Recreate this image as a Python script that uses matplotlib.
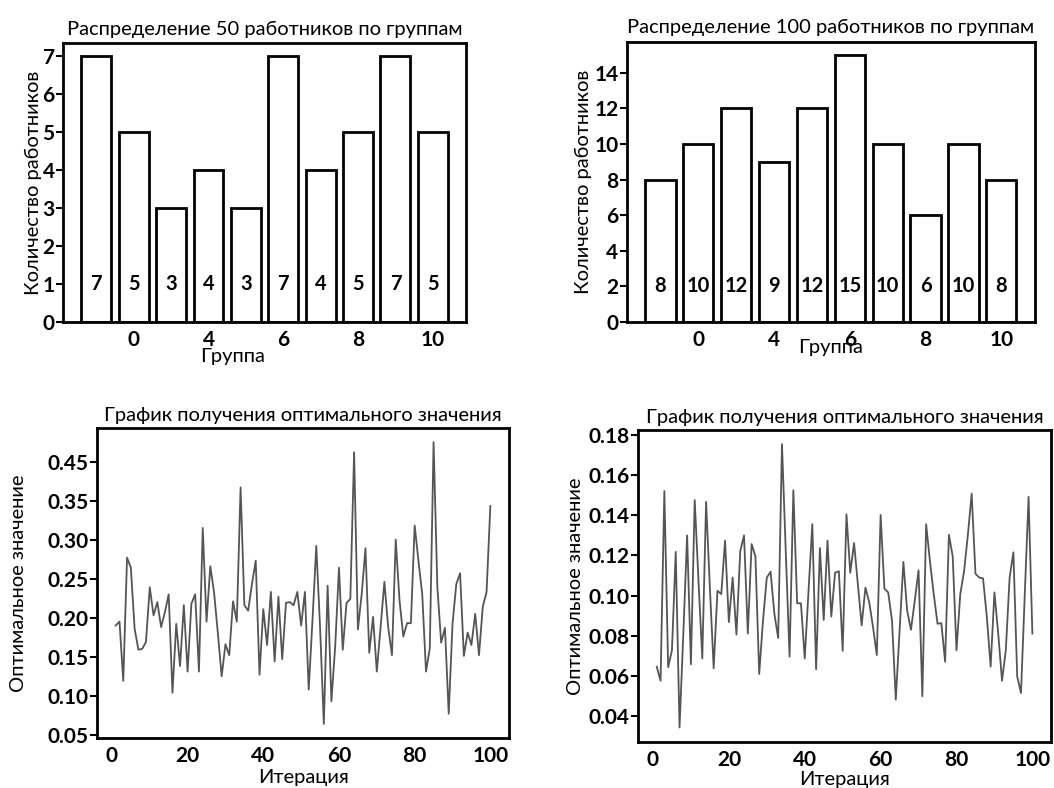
import matplotlib
matplotlib.use("Agg")
import matplotlib.pyplot as plt

plt.rcParams['font.family'] = ['Lato', 'DejaVu Sans']

# распределение работников по группам
groups = [1, 2, 3, 4, 5, 6, 7, 8, 9, 10]
workers_50 = [7, 5, 3, 4, 3, 7, 4, 5, 7, 5]
workers_100 = [8, 10, 12, 9, 12, 15, 10, 6, 10, 8]
group_ticks = [2, 4, 6, 8, 10]
group_tick_labels = ['0', '4', '6', '8', '10']

# оптимальное значение по итерациям
iterations = list(range(1, 101))
opt_50 = [
    0.190, 0.195, 0.119, 0.277, 0.264, 0.186, 0.159, 0.160, 0.169, 0.239,
    0.203, 0.220, 0.188, 0.207, 0.230, 0.104, 0.192, 0.138, 0.216, 0.131,
    0.218, 0.230, 0.131, 0.315, 0.195, 0.266, 0.232, 0.180, 0.125, 0.166,
    0.152, 0.221, 0.195, 0.367, 0.216, 0.209, 0.243, 0.273, 0.127, 0.211,
    0.165, 0.233, 0.144, 0.227, 0.147, 0.219, 0.220, 0.216, 0.233, 0.190,
    0.233, 0.108, 0.197, 0.292, 0.188, 0.064, 0.241, 0.093, 0.163, 0.264,
    0.159, 0.219, 0.224, 0.412, 0.185, 0.230, 0.289, 0.155, 0.201, 0.131,
    0.188, 0.246, 0.188, 0.152, 0.300, 0.222, 0.176, 0.193, 0.193, 0.318,
    0.273, 0.230, 0.131, 0.161, 0.425, 0.239, 0.168, 0.187, 0.077, 0.192,
    0.243, 0.257, 0.151, 0.181, 0.165, 0.205, 0.152, 0.214, 0.233, 0.343,
]
opt_100 = [
    0.0646, 0.0576, 0.1521, 0.0643, 0.0728, 0.1218, 0.0343, 0.0811, 0.1300, 0.0658,
    0.1476, 0.1073, 0.0687, 0.1467, 0.1040, 0.0638, 0.1024, 0.1008, 0.1274, 0.0868,
    0.1090, 0.0806, 0.1221, 0.1300, 0.0811, 0.1257, 0.1196, 0.0610, 0.0876, 0.1090,
    0.1119, 0.0909, 0.0789, 0.1755, 0.1220, 0.0696, 0.1525, 0.0962, 0.0962, 0.0687,
    0.1024, 0.1356, 0.0633, 0.1237, 0.0879, 0.1274, 0.0896, 0.1114, 0.1122, 0.0725,
    0.1405, 0.1114, 0.1262, 0.1057, 0.0852, 0.1040, 0.0967, 0.0843, 0.0704, 0.1402,
    0.1035, 0.1016, 0.0876, 0.0482, 0.0827, 0.1168, 0.0925, 0.0830, 0.0975, 0.1126,
    0.0499, 0.1356, 0.1172, 0.1008, 0.0860, 0.0863, 0.0671, 0.1303, 0.1196, 0.0728,
    0.1008, 0.1122, 0.1303, 0.1508, 0.1109, 0.1090, 0.1086, 0.0893, 0.0646, 0.1016,
    0.0811, 0.0576, 0.0728, 0.1090, 0.1216, 0.0597, 0.0515, 0.1008, 0.1492, 0.0811,
]
# подписи оси y левого нижнего графика (как на исходной картинке)
opt_50_ticks = [0.05, 0.10, 0.15, 0.20, 0.25, 0.30, 0.35, 0.40]
opt_50_tick_labels = ['0.05', '0.10', '0.15', '0.20', '0.25', '0.30', '0.35', '0.45']
opt_100_ticks = [0.04, 0.06, 0.08, 0.10, 0.12, 0.14, 0.16, 0.18]

fig = plt.figure(figsize=(10.54, 7.88), dpi=100)
ax1 = fig.add_axes([0.0598, 0.5914, 0.3824, 0.354])
ax2 = fig.add_axes([0.5946, 0.5917, 0.3874, 0.3553])
ax3 = fig.add_axes([0.0920, 0.0635, 0.3910, 0.3934])
ax4 = fig.add_axes([0.6053, 0.0588, 0.3920, 0.3956])

TXT = 14.5


def style(ax):
    for sp in ax.spines.values():
        sp.set_linewidth(2)
    ax.tick_params(axis='y', length=5, width=1.5, labelsize=15, pad=1)
    ax.tick_params(axis='x', length=0, labelsize=15, pad=6)
    for lab in ax.get_xticklabels() + ax.get_yticklabels():
        lab.set_fontweight('bold')


def bars(ax, values, n, label_y):
    ax.bar(groups, values, width=0.8, color='white', edgecolor='black', linewidth=2)
    for g, v in zip(groups, values):
        ax.text(g, label_y, str(v), ha='center', va='center', fontsize=14.5, fontweight='bold')
    ax.set_xticks(group_ticks)
    ax.set_xticklabels(group_tick_labels)
    ax.set_title(f'Распределение {n} работников по группам', fontsize=TXT, pad=6)
    ax.set_xlabel('Группа', fontsize=TXT)
    ax.set_ylabel('Количество работников', fontsize=TXT)
    style(ax)


bars(ax1, workers_50, 50, 1)
ax1.set_yticks(range(0, 8))
bars(ax2, workers_100, 100, 2)
ax2.set_yticks(range(0, 15, 2))

for ax, vals in ((ax3, opt_50), (ax4, opt_100)):
    ax.plot(iterations, vals, color='#555555', linewidth=1.3)
    ax.set_xticks([0, 20, 40, 60, 80, 100])
    ax.set_title('График получения оптимального значения', fontsize=TXT, pad=5)
    ax.set_xlabel('Итерация', fontsize=TXT)
    ax.set_ylabel('Оптимальное значение', fontsize=TXT)

ax3.set_yticks(opt_50_ticks)
ax3.set_yticklabels(opt_50_tick_labels)
ax4.set_yticks(opt_100_ticks)
style(ax3)
style(ax4)

# положение подписей осей, как на исходной картинке
ax1.xaxis.set_label_coords(0.42, -0.095)
ax2.xaxis.set_label_coords(0.5, -0.06)
ax3.xaxis.set_label_coords(0.5, -0.1)
ax4.xaxis.set_label_coords(0.5, -0.094)
ax1.yaxis.set_label_coords(-0.052, 0.5)
ax2.yaxis.set_label_coords(-0.085, 0.5)
ax3.yaxis.set_label_coords(-0.17, 0.5)
ax4.yaxis.set_label_coords(-0.131, 0.5)

fig.savefig('out.png', dpi=100)
